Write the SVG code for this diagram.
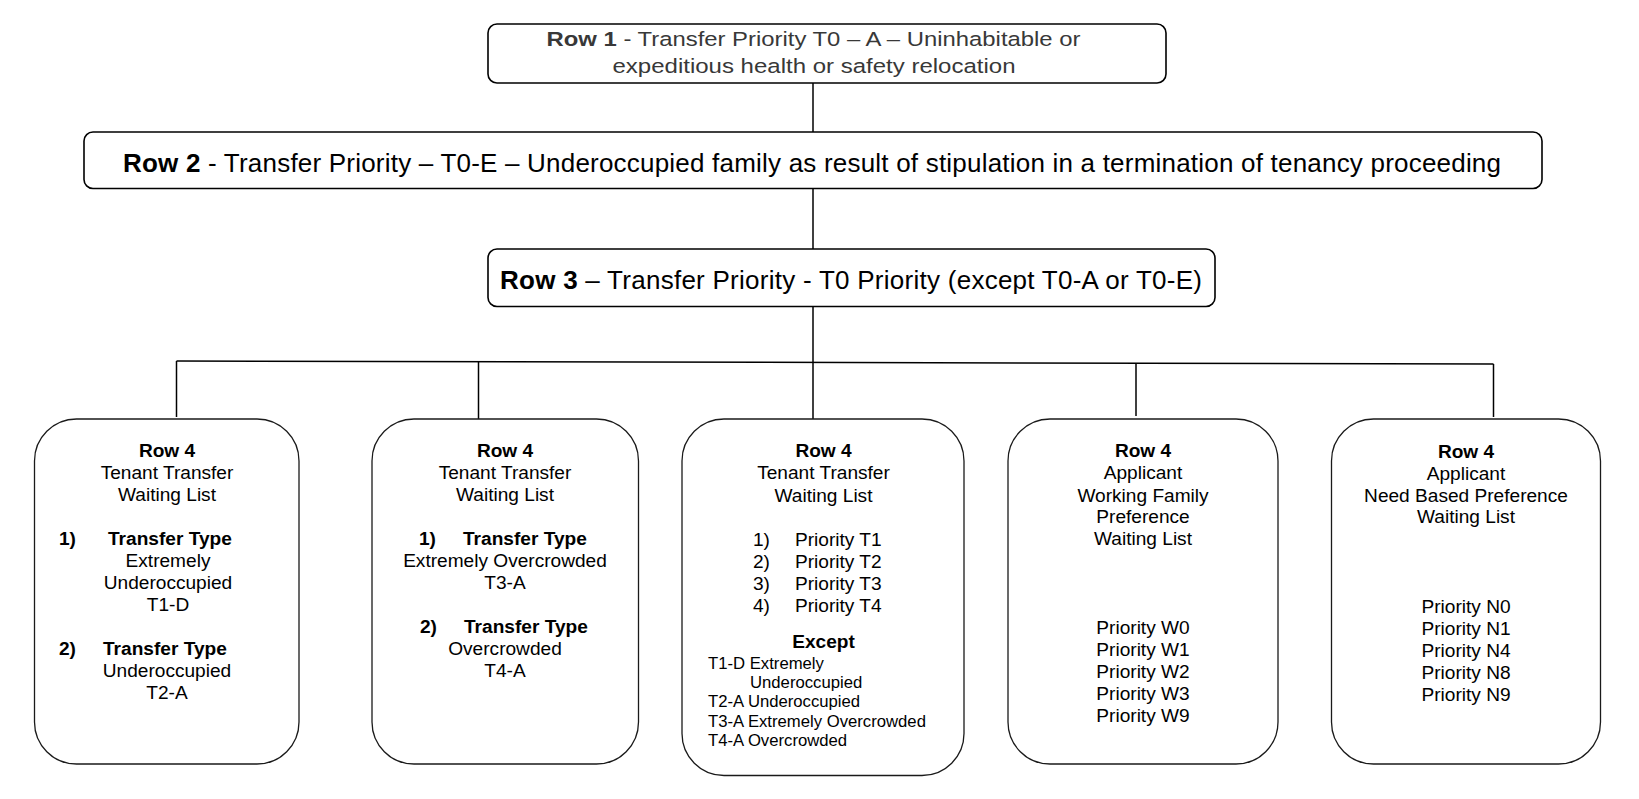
<svg xmlns="http://www.w3.org/2000/svg" width="1639" height="799" viewBox="0 0 1639 799">
<style>
  .box { fill: #ffffff; stroke: #000000; stroke-width: 1.6; }
  .box4 { fill: #ffffff; stroke: #1a1a1a; stroke-width: 1.3; }
  text { font-family: "Liberation Sans", Arial, sans-serif; fill: #000000; }
  .r1 { font-size: 20.5px; fill: #383838; }
  .big { font-size: 26px; }
  .t4 { font-size: 19.1px; }
  .sm { font-size: 16.7px; }
  .c { text-anchor: middle; }
  .b { font-weight: bold; }
  .conn line { stroke: #000000; stroke-width: 1.5; fill: none; }
</style>
<rect width="1639" height="799" fill="#ffffff"/>

<g id="connectors" class="conn">
  <line x1="813" y1="83" x2="813" y2="132"/>
  <line x1="813" y1="188.5" x2="813" y2="249"/>
  <line x1="813" y1="306.5" x2="813" y2="419"/>
  <line x1="176.5" y1="361" x2="1493.5" y2="364"/>
  <line x1="176.5" y1="361" x2="176.5" y2="417"/>
  <line x1="478.5" y1="362" x2="478.5" y2="419"/>
  <line x1="1136" y1="363.5" x2="1136" y2="416"/>
  <line x1="1493.5" y1="364" x2="1493.5" y2="417"/>
</g>

<g id="row1">
  <rect class="box" x="488" y="24" width="678" height="59" rx="9"/>
  <text class="r1 c" x="813.5" y="46" textLength="534" lengthAdjust="spacingAndGlyphs"><tspan class="b">Row 1</tspan> - Transfer Priority T0 – A – Uninhabitable or</text>
  <text class="r1 c" x="814" y="73" textLength="403" lengthAdjust="spacingAndGlyphs">expeditious health or safety relocation</text>
</g>

<g id="row2">
  <rect class="box" x="84" y="132" width="1458" height="56.5" rx="9"/>
  <text class="big c" x="812" y="171.5" textLength="1378"><tspan class="b">Row 2</tspan> - Transfer Priority – T0-E – Underoccupied family as result of stipulation in a termination of tenancy proceeding</text>
</g>

<g id="row3">
  <rect class="box" x="488" y="249" width="727" height="57.5" rx="9"/>
  <text class="big c" x="851" y="289" textLength="702"><tspan class="b">Row 3</tspan> – Transfer Priority - T0 Priority (except T0-A or T0-E)</text>
</g>

<g id="row4-tenant-underoccupied">
  <rect class="box4" x="34.5" y="419" width="264.5" height="345" rx="42"/>
  <text class="t4 c b" x="167" y="457">Row 4</text>
  <text class="t4 c" x="167" y="479">Tenant Transfer</text>
  <text class="t4 c" x="167" y="501">Waiting List</text>
  <text class="t4 b" x="59" y="545">1)</text>
  <text class="t4 b" x="108" y="545">Transfer Type</text>
  <text class="t4 c" x="168" y="567">Extremely</text>
  <text class="t4 c" x="168" y="589">Underoccupied</text>
  <text class="t4 c" x="168" y="611">T1-D</text>
  <text class="t4 b" x="59" y="655">2)</text>
  <text class="t4 b" x="103" y="655">Transfer Type</text>
  <text class="t4 c" x="167" y="677">Underoccupied</text>
  <text class="t4 c" x="167" y="699">T2-A</text>
</g>

<g id="row4-tenant-overcrowded">
  <rect class="box4" x="372" y="419" width="266.5" height="345" rx="42"/>
  <text class="t4 c b" x="505" y="457">Row 4</text>
  <text class="t4 c" x="505" y="479">Tenant Transfer</text>
  <text class="t4 c" x="505" y="501">Waiting List</text>
  <text class="t4 b" x="419" y="545">1)</text>
  <text class="t4 b" x="463" y="545">Transfer Type</text>
  <text class="t4 c" x="505" y="567">Extremely Overcrowded</text>
  <text class="t4 c" x="505" y="589">T3-A</text>
  <text class="t4 b" x="420" y="633">2)</text>
  <text class="t4 b" x="464" y="633">Transfer Type</text>
  <text class="t4 c" x="505" y="655">Overcrowded</text>
  <text class="t4 c" x="505" y="677">T4-A</text>
</g>

<g id="row4-tenant-priority">
  <rect class="box4" x="682" y="419" width="282" height="356.5" rx="42"/>
  <text class="t4 c b" x="823.5" y="457">Row 4</text>
  <text class="t4 c" x="823.5" y="479">Tenant Transfer</text>
  <text class="t4 c" x="823.5" y="501.5">Waiting List</text>
  <text class="t4" x="753" y="546">1)</text>
  <text class="t4" x="795" y="546">Priority T1</text>
  <text class="t4" x="753" y="568">2)</text>
  <text class="t4" x="795" y="568">Priority T2</text>
  <text class="t4" x="753" y="590">3)</text>
  <text class="t4" x="795" y="590">Priority T3</text>
  <text class="t4" x="753" y="612">4)</text>
  <text class="t4" x="795" y="612">Priority T4</text>
  <text class="t4 c b" x="823.5" y="648">Except</text>
  <text class="sm" x="708" y="668.5">T1-D Extremely</text>
  <text class="sm" x="750" y="687.8">Underoccupied</text>
  <text class="sm" x="708" y="707">T2-A Underoccupied</text>
  <text class="sm" x="708" y="726.6">T3-A Extremely Overcrowded</text>
  <text class="sm" x="708" y="746">T4-A Overcrowded</text>
</g>

<g id="row4-applicant-working">
  <rect class="box4" x="1008" y="419" width="270" height="345" rx="42"/>
  <text class="t4 c b" x="1143" y="457">Row 4</text>
  <text class="t4 c" x="1143" y="479">Applicant</text>
  <text class="t4 c" x="1143" y="501.5">Working Family</text>
  <text class="t4 c" x="1143" y="523">Preference</text>
  <text class="t4 c" x="1143" y="545">Waiting List</text>
  <text class="t4 c" x="1143" y="633.5">Priority W0</text>
  <text class="t4 c" x="1143" y="655.5">Priority W1</text>
  <text class="t4 c" x="1143" y="677.5">Priority W2</text>
  <text class="t4 c" x="1143" y="699.5">Priority W3</text>
  <text class="t4 c" x="1143" y="721.5">Priority W9</text>
</g>

<g id="row4-applicant-need">
  <rect class="box4" x="1331.5" y="419" width="269" height="345" rx="42"/>
  <text class="t4 c b" x="1466" y="458">Row 4</text>
  <text class="t4 c" x="1466" y="480">Applicant</text>
  <text class="t4 c" x="1466" y="501.5">Need Based Preference</text>
  <text class="t4 c" x="1466" y="523">Waiting List</text>
  <text class="t4 c" x="1466" y="613">Priority N0</text>
  <text class="t4 c" x="1466" y="635">Priority N1</text>
  <text class="t4 c" x="1466" y="657">Priority N4</text>
  <text class="t4 c" x="1466" y="679">Priority N8</text>
  <text class="t4 c" x="1466" y="701">Priority N9</text>
</g>
</svg>
